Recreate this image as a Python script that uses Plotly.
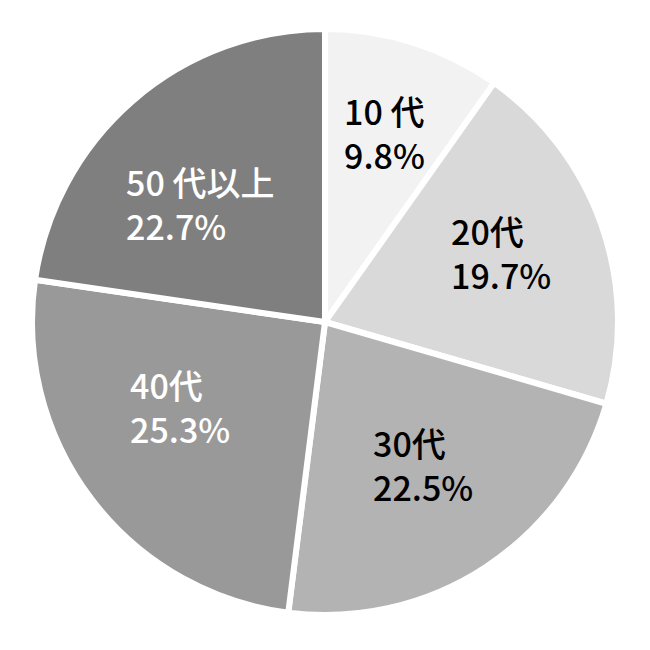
import math
import plotly.graph_objects as go

# データ
labels = ["10 代", "20代", "30代", "40代", "50 代以上"]
values = [9.8, 19.7, 22.5, 25.3, 22.7]
colors = ["#f2f2f2", "#d9d9d9", "#b3b3b3", "#999999", "#7f7f7f"]
text_colors = ["black", "black", "black", "white", "white"]

# ラベルの微調整 (px)  ※元図は手動配置っぽいので
nudge = [(5, -18), (6, -10), (-1, -8), (-2, -24), (-7, 17)]

W = H = 650
OFF = 8                    # ブラウザの body マージン分
cx, cy = 325 - OFF, 322 - OFF   # 円の中心 (px)
R = 293                    # 半径 (白い枠線ぶん少し大きめ)
label_r = 0.62 * 290       # ラベルを置く半径

fig = go.Figure(go.Pie(
    labels=labels,
    values=values,
    sort=False,
    direction="clockwise",
    rotation=0,
    marker=dict(colors=colors, line=dict(color="white", width=6)),
    textinfo="none",
    hoverinfo="label+percent",
    domain=dict(x=[(cx - R) / W, (cx + R) / W],
                y=[1 - (cy + R) / H, 1 - (cy - R) / H]),
    showlegend=False,
))

# ラベル位置は各スライスの中央角から計算
total = sum(values)
acc = 0
for lab, v, tc, (nx, ny) in zip(labels, values, text_colors, nudge):
    mid = (acc + v / 2) / total
    acc += v
    th = 2 * math.pi * mid
    px_x = cx + label_r * math.sin(th)
    px_y = cy - label_r * math.cos(th)
    fig.add_annotation(
        x=px_x / W, y=1 - px_y / H, xref="paper", yref="paper",
        xshift=nx, yshift=-ny,
        text=f"{lab}<br>{v:.1f}%",
        showarrow=False, align="left", xanchor="center", yanchor="middle",
        font=dict(family="Noto Sans CJK JP", size=34, color=tc, weight=500),
    )

fig.update_layout(
    width=W, height=H,
    margin=dict(l=0, r=0, t=0, b=0),
    paper_bgcolor="white",
    plot_bgcolor="white",
)

fig.write_html("out.html")
